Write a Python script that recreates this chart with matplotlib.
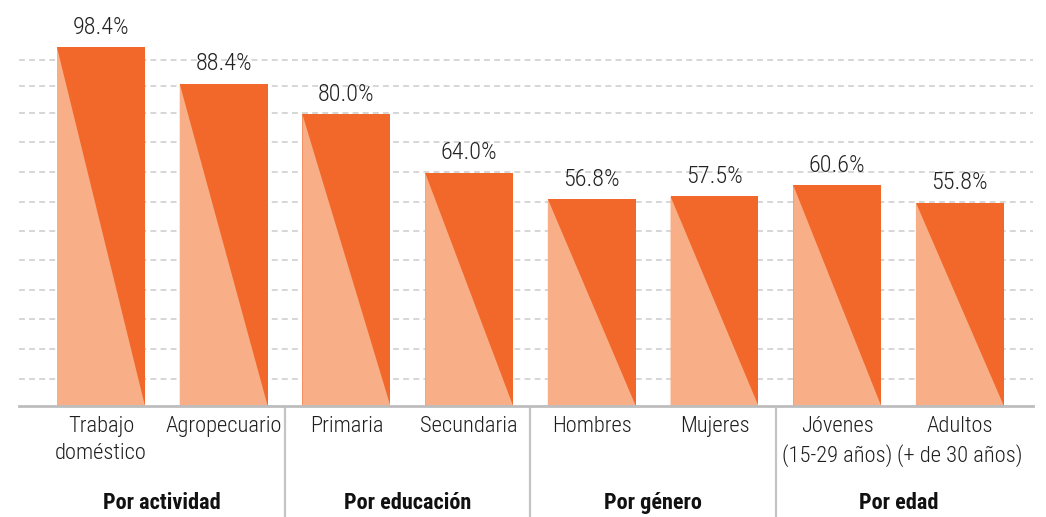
import matplotlib
matplotlib.use("Agg")
import matplotlib.pyplot as plt
import numpy as np

# data
categories = ["Trabajo\ndoméstico", "Agropecuario", "Primaria", "Secundaria",
              "Hombres", "Mujeres", "Jóvenes\n(15-29 años)", "Adultos\n(+ de 30 años)"]
values = [98.4, 88.4, 80.0, 64.0, 56.8, 57.5, 60.6, 55.8]
groups = ["Por actividad", "Por educación", "Por género", "Por edad"]
group_size = [2, 2, 2, 2]
grid_values = [7.5, 15.6, 23.8, 31.7, 40.0, 48.0, 56.1, 64.2, 72.3, 80.5, 87.8, 95.0]

DARK = "#F2682A"
LIGHT = "#F8AF87"

plt.rcParams["font.family"] = ["Roboto Condensed", "Barlow Semi Condensed",
                               "Fira Sans Condensed", "DejaVu Sans"]

fig = plt.figure(figsize=(10.46, 5.17), dpi=100)
ax = fig.add_axes([0.0182, 0.2147, 0.9694, 0.705])

x = np.arange(len(values))
w = 0.717

for g in grid_values:
    ax.axhline(g, color="#d6d6d6", lw=1.4, ls=(0, (3, 2.2)), zorder=0)

ax.bar(x, values, width=w, color=DARK, zorder=2)
for xi, v in zip(x, values):
    x0, x1 = xi - w / 2, xi + w / 2
    ax.fill([x0, x0, x1], [0, v, 0], color=LIGHT, lw=0, zorder=3)
    ax.annotate(f"{v:.1f}%", (xi, v), xytext=(0, 6), textcoords="offset points",
                ha="center", va="bottom", fontsize=17.5, fontweight="light",
                color="#222222")

ax.set_xlim(-0.668, 7.596)
ax.set_ylim(0, 100)
ax.set_yticks([])
ax.set_xticks(x, categories, fontsize=16.2, fontweight="light", color="#1e1e1e",
              linespacing=1.4)
ax.tick_params(axis="x", length=0, pad=7)
for s in ["top", "left", "right"]:
    ax.spines[s].set_visible(False)
ax.spines["bottom"].set_color("#bdbdbd")
ax.spines["bottom"].set_linewidth(2)
ax.spines["bottom"].set_zorder(4)

trans = ax.get_xaxis_transform()
start = 0
for name, n in zip(groups, group_size):
    center = start + (n - 1) / 2
    ax.text(center, -0.266, name, transform=trans, ha="center", va="center",
            fontsize=16, fontweight="bold", color="#111111")
    if start > 0:
        ax.plot([start - 0.5, start - 0.5], [-0.006, -0.31], transform=trans,
                color="#c4c4c4", lw=1.6, clip_on=False)
    start += n

fig.savefig("out.png", dpi=100)
